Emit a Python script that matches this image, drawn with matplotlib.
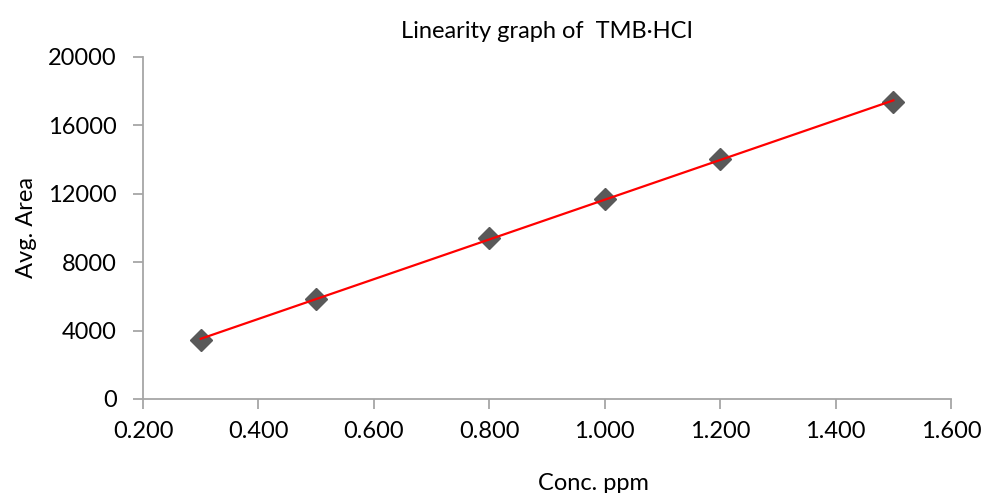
import numpy as np
import matplotlib.pyplot as plt

conc = [0.3, 0.5, 0.8, 1.0, 1.2, 1.5]
area = [3450, 5840, 9410, 11690, 14030, 17370]
x_ticks = [0.2, 0.4, 0.6, 0.8, 1.0, 1.2, 1.4, 1.6]
y_ticks = [0, 4000, 8000, 12000, 16000, 20000]

plt.rcParams['font.family'] = ['Lato', 'DejaVu Sans']

fig = plt.figure(figsize=(9.83, 4.93), dpi=100)
ax = fig.add_axes([0.1455, 0.1907, 0.822, 0.6937])

# linear trendline over the data range
slope, intercept = np.polyfit(conc, area, 1)
xs = np.array([conc[0], conc[-1]])
ax.plot(conc, area, linestyle='none', marker='D', markersize=11,
        color='#595959', zorder=2)
ax.plot(xs, slope * xs + intercept, color='#ff0000', lw=1.6, zorder=3)

ax.set_xlim(0.2, 1.6)
ax.set_ylim(0, 20000)
ax.set_xticks(x_ticks)
ax.set_xticklabels(['%.3f' % v for v in x_ticks])
ax.set_yticks(y_ticks)
ax.set_yticklabels([str(v) for v in y_ticks])

for s in ['top', 'right']:
    ax.spines[s].set_visible(False)
for s in ['left', 'bottom']:
    ax.spines[s].set_color('#a6a6a6')
    ax.spines[s].set_linewidth(1.3)
ax.tick_params(direction='out', length=7, width=1.3, color='#a6a6a6',
               labelsize=17, labelcolor='black')
ax.tick_params(axis='y', pad=12)
ax.tick_params(axis='x', pad=9)

ax.set_title('Linearity graph of  TMB\u00b7HCI', fontsize=17, pad=14)
ax.set_xlabel('Conc. ppm', fontsize=17, va='baseline')
ax.xaxis.set_label_coords(0.557, -0.265)
ax.set_ylabel('Avg. Area', fontsize=17, va='baseline')
ax.yaxis.set_label_coords(-0.136, 0.5)

fig.savefig('out.png', dpi=100)
